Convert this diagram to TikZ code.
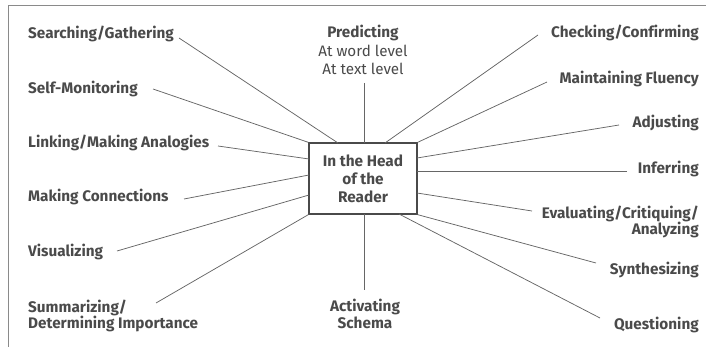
\documentclass[tikz,border=0pt]{standalone}
\usepackage{fontspec}
\setmainfont{Fira Sans}[Ligatures=NoCommon]
\definecolor{txt}{HTML}{4A4A4A}
\definecolor{ln}{HTML}{666666}
\definecolor{frm}{HTML}{8A8A8A}
\begin{document}
\begin{tikzpicture}[x=1pt,y=-1pt,
  lbl/.style={font=\fontsize{15.3}{16}\selectfont\bfseries, text=txt, inner sep=0pt},
  sub/.style={font=\fontsize{15.2}{16}\selectfont, text=txt, inner sep=0pt},
  headbox/.style={draw=txt, line width=1.3pt, minimum width=108pt, minimum height=71pt,
    inner sep=0pt, align=center, font=\fontsize{15.4}{18}\selectfont\bfseries, text=txt},
  conn/.style={draw=ln, line width=0.75pt}]
\useasboundingbox (0,0) rectangle (710,347);
\draw[draw=frm, line width=1pt] (8,347) -- (8,6) -- (706,6);

% centre
\node[headbox] (head) at (363,178.5) {In the Head\\of the\\Reader};

% left labels
\node[lbl, anchor=base west] (sg) at (28,39) {Searching/Gathering};
\node[lbl, anchor=base west] (sm) at (28,93.5) {Self-Monitoring};
\node[lbl, anchor=base west] (lk) at (28,148) {Linking/Making Analogies};
\node[lbl, anchor=base west] (mc) at (28,202) {Making Connections};
\node[lbl, anchor=base west] (vi) at (28,257) {Visualizing};
\node[lbl, anchor=base west] (su) at (28,313) {Summarizing/};
\node[lbl, anchor=base west] (di) at (28,328.5) {Determining Importance};

% top and bottom labels
\node[lbl, anchor=base] (pr) at (363,38) {Predicting};
\node[sub, anchor=base] (pw) at (363,57) {At word level};
\node[sub, anchor=base] (pt) at (363,75) {At text level};
\node[lbl, anchor=base] (ac) at (365,312) {Activating};
\node[lbl, anchor=base] (sc) at (365,329) {Schema};

% right labels
\node[lbl, anchor=base east] (cc) at (699,38) {Checking/Confirming};
\node[lbl, anchor=base east] (mf) at (699,84) {Maintaining Fluency};
\node[lbl, anchor=base east] (ad) at (699,128) {Adjusting};
\node[lbl, anchor=base east] (in) at (699,174) {Inferring};
\node[lbl, anchor=base east] (ev) at (699,219) {Evaluating/Critiquing/};
\node[lbl, anchor=base east] (an) at (699,235) {Analyzing};
\node[lbl, anchor=base east] (sy) at (699,275) {Synthesizing};
\node[lbl, anchor=base east] (qu) at (699,330) {Questioning};

% connector end points
\coordinate (sgA) at (179,38);  \coordinate (sgB) at (338,143);
\coordinate (smA) at (153,89);
\coordinate (lkA) at (218,146); \coordinate (lkB) at (309,159);
\coordinate (mcA) at (184,199); \coordinate (mcB) at (309,175);
\coordinate (viA) at (117,251); \coordinate (viB) at (309,195);
\coordinate (suA) at (156,303);
\coordinate (prA) at (364,83);  \coordinate (prB) at (364,143);
\coordinate (acA) at (364,290); \coordinate (acB) at (364,214);
\coordinate (ccA) at (538,35);  \coordinate (ccB) at (385,143);
\coordinate (mfA) at (547,82);
\coordinate (adA) at (619,125); \coordinate (adB) at (417,158);
\coordinate (inA) at (627,171); \coordinate (inB) at (417,171);
\coordinate (evA) at (532,211); \coordinate (evB) at (417,193);
\coordinate (syA) at (596,263);
\coordinate (quA) at (600,318); \coordinate (quB) at (399,214);

\draw[conn] (sgA) -- (sgB);
\draw[conn] (smA) -- (head.north west);
\draw[conn] (lkA) -- (lkB);
\draw[conn] (mcA) -- (mcB);
\draw[conn] (viA) -- (viB);
\draw[conn] (suA) -- (head.south west);
\draw[conn] (prA) -- (prB);
\draw[conn] (acA) -- (acB);
\draw[conn] (ccA) -- (ccB);
\draw[conn] (mfA) -- (head.north east);
\draw[conn] (adA) -- (adB);
\draw[conn] (inA) -- (inB);
\draw[conn] (evA) -- (evB);
\draw[conn] (syA) -- (head.south east);
\draw[conn] (quA) -- (quB);
\end{tikzpicture}
\end{document}
